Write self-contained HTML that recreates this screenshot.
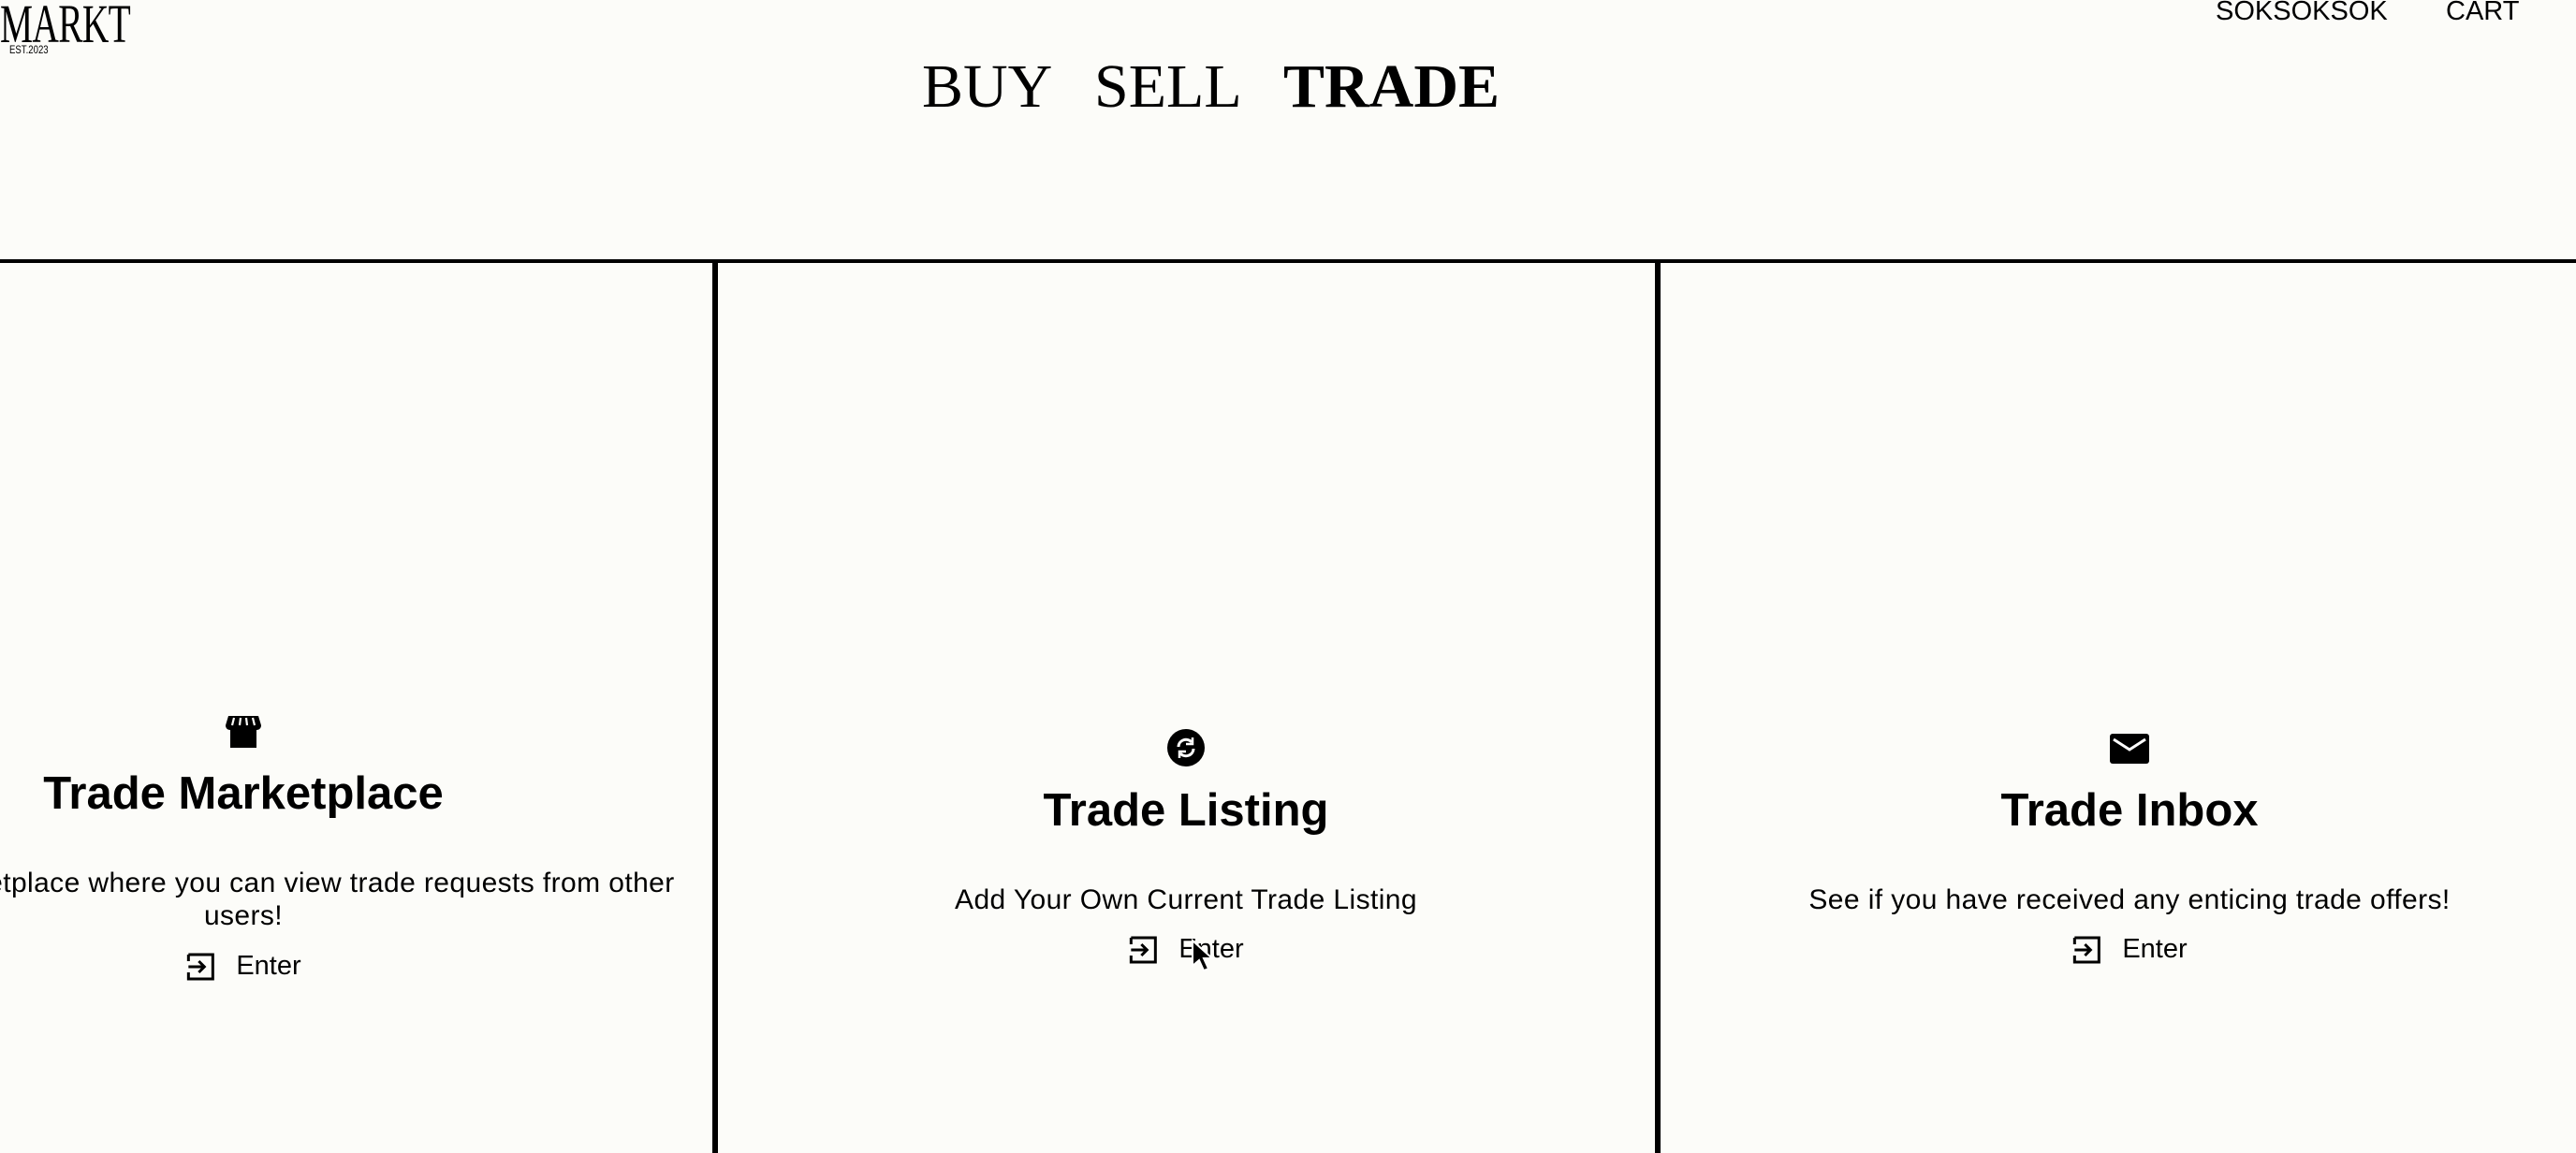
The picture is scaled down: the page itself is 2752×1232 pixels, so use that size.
<!DOCTYPE html>
<html><head><meta charset="utf-8"><style>
html,body{margin:0;padding:0;width:2752px;height:1232px;overflow:hidden;background:#fcfcf9;font-family:"Liberation Sans",sans-serif;color:#000}
.a{position:absolute;white-space:nowrap}
.c{transform:translateX(-50%);text-align:center}
.serif{font-family:"Liberation Serif",serif}
.title{font-weight:bold;font-size:49px;line-height:1}
.desc{font-size:30px;line-height:35px;letter-spacing:0.4px}
.enter{font-size:29px;display:flex;align-items:center;gap:22px}
.vl{position:absolute;top:277px;width:6px;height:955px;background:#000}
</style></head><body>
<div class="a serif" style="left:0;top:-8px;font-size:58px;transform:scaleX(0.68);transform-origin:left;letter-spacing:-1px">MARKT</div>
<div class="a" style="left:10px;top:46px;font-size:12px;transform:scaleX(0.8);transform-origin:left">EST.2023</div>

<div class="a serif" style="left:985px;top:60px;font-size:66px;line-height:1">BUY</div>
<div class="a serif" style="left:1169px;top:60px;font-size:66px;line-height:1">SELL</div>
<div class="a serif" style="left:1371px;top:60px;font-size:66px;line-height:1;font-weight:bold">TRADE</div>

<div class="a" style="left:2367px;top:-3px;font-size:29px;line-height:1.1">SOKSOKSOK</div>
<div class="a" style="left:2613px;top:-3px;font-size:29px;line-height:1.1">CART</div>

<div class="a" style="left:0;top:277px;width:2752px;height:4px;background:#000"></div>
<div class="vl" style="left:761px"></div>
<div class="vl" style="left:1768px"></div>

<!-- Panel 1 (clipped at left edge) -->
<div class="a" style="left:0;top:0;width:761px;height:1232px;overflow:hidden">
<svg class="a" style="left:240px;top:763px" width="40" height="38" viewBox="0 0 40 38"><path d="M4 2h32l3 10c0 3-2 5-5 5v19H6V17c-3 0-5-2-5-5z" fill="#000"/><path d="M10 4l-2 8M17 4l-1 8M23 4l1 8M30 4l2 8" stroke="#fcfcf9" stroke-width="2.2"/></svg>
<div class="a c title" style="left:260px;top:824px">Trade Marketplace</div>
<div class="a c desc" style="left:260px;top:926px">Visit the Marketplace where you can view trade requests from other<br>users!</div>
<div class="a c enter" style="left:260px;top:1016px"><svg width="32" height="32" viewBox="0 0 32 32"><path d="M3 3h26v26H3V22M3 10V3" fill="none" stroke="#000" stroke-width="3"/><path d="M3 16h17M14 10l6 6-6 6" fill="none" stroke="#000" stroke-width="3"/></svg><span>Enter</span></div>
</div>

<!-- Panel 2 -->
<svg class="a" style="left:1247px;top:779px" width="40" height="40" viewBox="0 0 40 40"><circle cx="20" cy="20" r="20" fill="#000"/><path d="M12 19a8 8 0 0 1 14-5M28 21a8 8 0 0 1-14 5" fill="none" stroke="#fff" stroke-width="3"/><path d="M27 9v7h-7M13 31v-7h7" fill="none" stroke="#fff" stroke-width="2.5"/></svg>
<div class="a c title" style="left:1267px;top:842px">Trade Listing</div>
<div class="a c desc" style="left:1267px;top:944px">Add Your Own Current Trade Listing</div>
<div class="a c enter" style="left:1267px;top:998px"><svg width="32" height="32" viewBox="0 0 32 32"><path d="M3 3h26v26H3V22M3 10V3" fill="none" stroke="#000" stroke-width="3"/><path d="M3 16h17M14 10l6 6-6 6" fill="none" stroke="#000" stroke-width="3"/></svg><span>Enter</span></div>
<svg class="a" style="left:1272px;top:1003px" width="26" height="36" viewBox="0 0 26 36"><path d="M2 2v27l7-6 5 11 5-2-5-11h9z" fill="#000" stroke="#fff" stroke-width="2"/></svg>

<!-- Panel 3 -->
<svg class="a" style="left:2254px;top:784px" width="42" height="32" viewBox="0 0 42 32"><rect x="0" y="0" width="42" height="32" rx="3" fill="#000"/><path d="M4 6l17 11 17-11" fill="none" stroke="#fff" stroke-width="3"/></svg>
<div class="a c title" style="left:2275px;top:842px">Trade Inbox</div>
<div class="a c desc" style="left:2275px;top:944px">See if you have received any enticing trade offers!</div>
<div class="a c enter" style="left:2275px;top:998px"><svg width="32" height="32" viewBox="0 0 32 32"><path d="M3 3h26v26H3V22M3 10V3" fill="none" stroke="#000" stroke-width="3"/><path d="M3 16h17M14 10l6 6-6 6" fill="none" stroke="#000" stroke-width="3"/></svg><span>Enter</span></div>
</body></html>
